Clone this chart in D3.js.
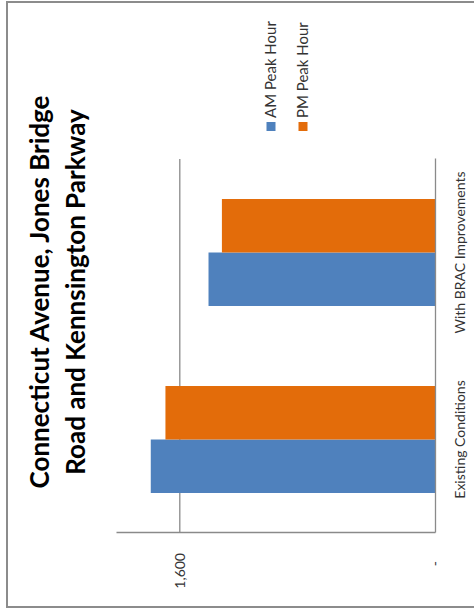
<!DOCTYPE html>
<html>
<head>
<meta charset="utf-8">
<script src="https://cdn.jsdelivr.net/npm/d3@7"></script>
<style>
  html, body { margin: 0; padding: 0; background: #fff; }
  svg { display: block; }
  text { font-family: Lato, "Open Sans", sans-serif; }
</style>
</head>
<body>
<svg id="chart" width="474" height="612"></svg>
<script>
const titleLines = ["Connecticut Avenue, Jones Bridge", "Road and Kennsington Parkway"];
const categories = ["Existing Conditions", "With BRAC Improvements"];
const seriesNames = ["AM Peak Hour", "PM Peak Hour"];
const amValues = [1782, 1420];
const pmValues = [1690, 1336];
const tickValues = [0, 1600];
const tickLabels = ["-", "1,600"];
const colors = ["#4F81BD", "#E36C0A"];

const W = 474, H = 612;
const svg = d3.select("#chart");

// outer frame
svg.append("rect")
  .attr("x", 7).attr("y", 2).attr("width", 480).attr("height", 605)
  .attr("fill", "none").attr("stroke", "#8c8c8c").attr("stroke-width", 2);

// chart drawn in a rotated frame: inner (u, v) -> page (v, H - u)
const g = svg.append("g").attr("transform", `translate(0,${H}) rotate(-90)`);

const plotLeft = 79, plotRight = 453, plotTop = 116, plotBottom = 435;

const x0 = d3.scaleBand().domain(categories).range([plotLeft, plotRight]).padding(0);
const x1 = d3.scaleBand().domain(seriesNames).range([0, x0.bandwidth()])
  .paddingInner(0).paddingOuter(0.748);
const y = d3.scaleLinear().domain([0, 2000]).range([plotBottom, plotTop]);

const axisColor = "#8a8a8a";

// gridline at 1600
g.append("g")
  .selectAll("line")
  .data(tickValues.filter(d => d > 0))
  .join("line")
  .attr("x1", plotLeft).attr("x2", plotRight)
  .attr("y1", d => y(d)).attr("y2", d => y(d))
  .attr("stroke", axisColor).attr("stroke-width", 1.3);

// bars
const data = categories.map((c, i) => ({ cat: c, vals: [amValues[i], pmValues[i]] }));
g.append("g")
  .selectAll("g")
  .data(data)
  .join("g")
  .attr("transform", d => `translate(${x0(d.cat)},0)`)
  .selectAll("rect")
  .data(d => d.vals.map((v, j) => ({ s: seriesNames[j], v, j })))
  .join("rect")
  .attr("x", d => x1(d.s))
  .attr("width", x1.bandwidth())
  .attr("y", d => y(d.v))
  .attr("height", d => y(0) - y(d.v))
  .attr("fill", d => colors[d.j]);

// y axis
const yAxis = d3.axisLeft(y).tickValues(tickValues).tickSize(0).tickPadding(20)
  .tickFormat((d, i) => tickLabels[i]);
const yg = g.append("g").attr("transform", `translate(${plotLeft},0)`).call(yAxis);
yg.select(".domain").attr("stroke", axisColor).attr("stroke-width", 1.3);
yg.selectAll("text").attr("font-size", 14).attr("fill", "#333")
  .attr("font-family", "Lato, sans-serif")
  .attr("dx", (d) => d === 0 ? -8 : 0);

// x axis
const xAxis = d3.axisBottom(x0).tickSize(0).tickPadding(20);
const xg = g.append("g").attr("transform", `translate(0,${plotBottom})`).call(xAxis);
xg.select(".domain").attr("stroke", axisColor).attr("stroke-width", 1.3);
xg.selectAll("text").attr("font-size", 14).attr("fill", "#333")
  .attr("font-family", "Lato, sans-serif");

// legend
const legend = g.append("g");
seriesNames.forEach((s, i) => {
  const vy = 271 + i * 32;
  legend.append("rect").attr("x", 481).attr("y", vy - 4.5).attr("width", 9).attr("height", 9)
    .attr("fill", colors[i]);
  legend.append("text").attr("x", 494).attr("y", vy).attr("dy", "0.35em")
    .attr("font-size", 15).attr("fill", "#333").text(s);
});

// title
g.append("g").selectAll("text")
  .data(titleLines)
  .join("text")
  .attr("x", 320)
  .attr("y", (d, i) => 40 + i * 36)
  .attr("dy", "0.35em")
  .attr("text-anchor", "middle")
  .attr("font-size", 26)
  .attr("font-weight", "bold")
  .attr("fill", "#000")
  .text(d => d);
</script>
</body>
</html>
